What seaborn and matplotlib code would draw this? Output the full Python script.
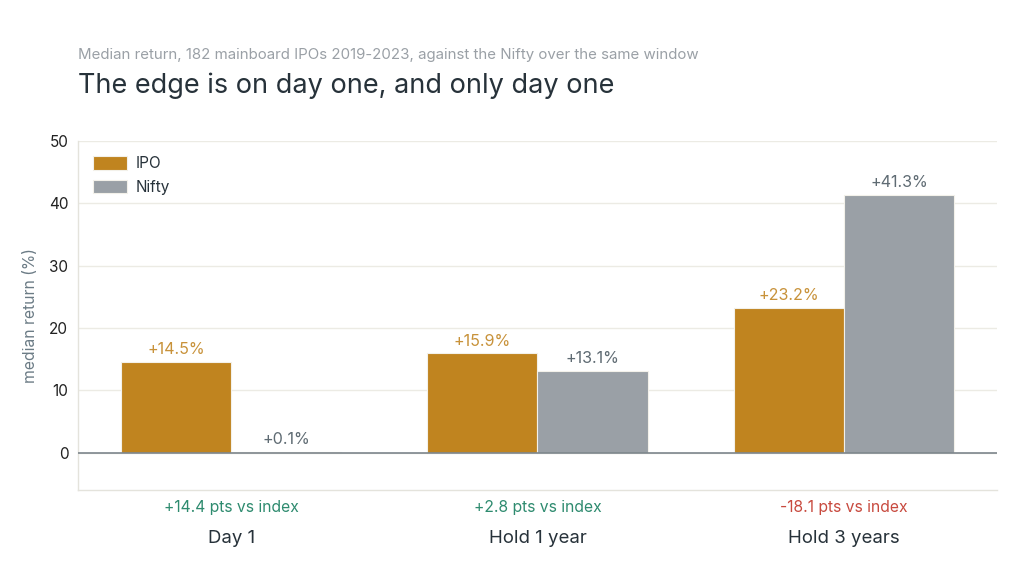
import pandas as pd
import seaborn as sns
import matplotlib.pyplot as plt
from matplotlib import transforms

# Datos del gráfico
categorias = ["Day 1", "Hold 1 year", "Hold 3 years"]
ipo = [14.5, 15.9, 23.2]
nifty = [0.1, 13.1, 41.3]
series = ["IPO", "Nifty"]

df = pd.DataFrame({
    "categoria": categorias * 2,
    "serie": ["IPO"] * 3 + ["Nifty"] * 3,
    "valor": ipo + nifty,
})

sns.set_theme(style="white")
plt.rcParams["font.family"] = ["Inter", "DejaVu Sans"]

colores = {"IPO": "#C0841F", "Nifty": "#9AA0A6"}
col_texto = {"IPO": "#C8923A", "Nifty": "#5F6B73"}

fig = plt.figure(figsize=(10.24, 5.73), dpi=100)
ax = fig.add_axes([0.0762, 0.1449, 0.8974, 0.6091])

sns.barplot(data=df, x="categoria", y="valor", hue="serie", order=categorias,
            hue_order=series, palette=colores, width=0.72, ax=ax,
            edgecolor="#F3F1EA", linewidth=0.8, saturation=1)

# etiquetas sobre las barras
for cont, s in zip(ax.containers, series):
    etiquetas = [f"+{v:.1f}%" for v in cont.datavalues]
    ax.bar_label(cont, labels=etiquetas, padding=3.5, fontsize=11.6, color=col_texto[s])

ax.set_ylim(-6, 50)
ax.set_xlim(-0.5, 2.5)
ax.set_yticks([0, 10, 20, 30, 40, 50])
ax.yaxis.grid(True, color="#ECEBE4", linewidth=1)
ax.set_axisbelow(True)
ax.axhline(0, color="#7D868C", linewidth=1.2, zorder=3)

for lado in ["top", "right"]:
    ax.spines[lado].set_visible(False)
for lado in ["left", "bottom"]:
    ax.spines[lado].set_color("#E4E3DC")
    ax.spines[lado].set_linewidth(1)

ax.tick_params(axis="y", length=4, width=0.8, color="#333333", labelsize=11, labelcolor="#222222", pad=3)
ax.tick_params(axis="x", length=0, labelsize=13.4, labelcolor="#27323A", pad=29)
ax.set_xlabel("")
ax.set_ylabel("median return (%)", fontsize=11.3, color="#6B7B85", labelpad=8)

# diferencias vs índice
trans = transforms.blended_transform_factory(ax.transData, ax.transAxes)
for i, (a, b) in enumerate(zip(ipo, nifty)):
    d = round(a - b, 1)
    color = "#2E8B6F" if d >= 0 else "#C84A3F"
    signo = "+" if d >= 0 else "-"
    ax.text(i, -0.05, f"{signo}{abs(d):.1f} pts vs index", transform=trans,
            ha="center", va="center", fontsize=11.3, color=color)

leg = ax.legend(loc="upper left", frameon=False, fontsize=11, handlelength=2.2,
                handleheight=1.0, borderaxespad=0.6, labelspacing=0.55, handletextpad=0.6)
for t in leg.get_texts():
    t.set_color("#27323A")

fig.text(0.0762, 0.904, "Median return, 182 mainboard IPOs 2019-2023, against the Nifty over the same window",
         fontsize=10.8, color="#9AA0A6", va="center")
fig.text(0.0762, 0.851, "The edge is on day one, and only day one",
         fontsize=19.5, color="#27323A", va="center")

fig.savefig("out.png", dpi=100, facecolor="white")
